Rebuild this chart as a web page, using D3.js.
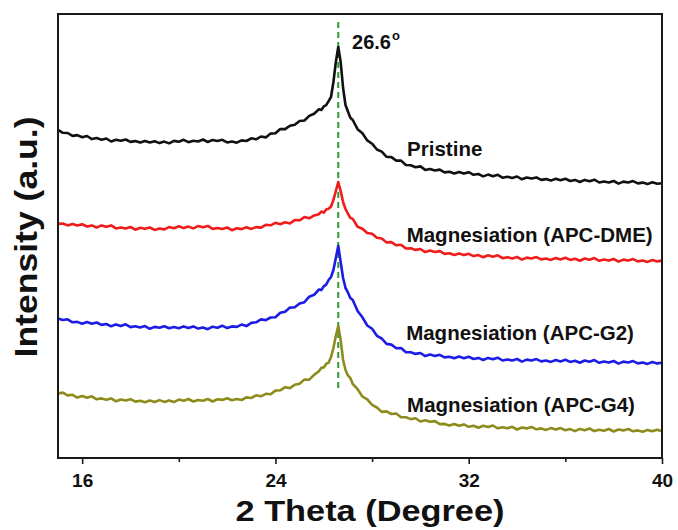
<!DOCTYPE html>
<html>
<head>
<meta charset="utf-8">
<script src="https://cdn.jsdelivr.net/npm/d3@7"></script>
<style>
  html, body { margin: 0; padding: 0; background: #fff; }
  svg { display: block; }
  text { font-family: "Liberation Sans", Arial, Helvetica, sans-serif; font-weight: bold; fill: #111; }
</style>
</head>
<body>
<svg id="chart" width="678" height="530"></svg>
<script>
// XRD patterns, intensity in arbitrary units (stacked traces)
const twoTheta = [15.0,15.2,15.4,15.6,15.8,16.0,16.2,16.4,16.6,16.8,
  17.0,17.2,17.4,17.6,17.8,18.0,18.2,18.4,18.6,18.8,
  19.0,19.2,19.4,19.6,19.8,20.0,20.2,20.4,20.6,20.8,
  21.0,21.2,21.4,21.6,21.8,22.0,22.2,22.4,22.6,22.8,
  23.0,23.2,23.4,23.6,23.8,24.0,24.2,24.4,24.6,24.8,
  25.0,25.2,25.4,25.6,25.8,
  25.9,26.0,26.1,26.2,26.3,26.4,26.5,26.6,26.7,26.8,26.9,27.0,27.1,27.2,
  27.4,27.6,27.8,28.0,28.2,28.4,28.6,28.8,29.0,29.2,
  29.4,29.6,29.8,30.0,30.2,30.4,30.6,30.8,31.0,31.2,
  31.4,31.6,31.8,32.0,32.2,32.4,32.6,32.8,33.0,33.2,
  33.4,33.6,33.8,34.0,34.2,34.4,34.6,34.8,35.0,35.2,
  35.4,35.6,35.8,36.0,36.2,36.4,36.6,36.8,37.0,37.2,
  37.4,37.6,37.8,38.0,38.2,38.4,38.6,38.8,39.0,39.2,
  39.4,39.6,39.8,40.0];

const pristine = [328.2,325.2,325,322.1,322.9,320.7,322,318.9,319.9,318.3,
  319.5,316.5,318.3,317.2,318.5,316.1,316.9,315.4,317.1,315.5,
  316.7,314.9,316.4,314.6,317.1,316.2,318.2,315.8,317.2,316.5,
  318.5,316,318.1,317.1,318.2,315.6,316.6,315.3,317.6,317,
  319.7,318.7,321.5,320.6,324.4,324.7,329,328.9,332.2,333.3,
  337,337.5,342.1,344.3,348.8,
  348.1,351.6,352.8,356.8,361,376,396,411,396,370,353,346.5,340.2,338,
  328.8,324.7,317.6,314.3,308.5,306.4,301.2,300.9,297.4,297.4,
  293,292.8,290.7,291.6,288.1,289.1,287.5,288.4,285.6,286.2,
  284.5,286.1,284.4,285.8,283.2,284,281.6,283.4,281.7,283.2,
  280.3,281.3,280.1,281.5,278.7,280.5,279.4,280.6,278.1,278.9,
  277.4,279.2,277.7,279.2,277,278.1,276,278.1,276.7,278.3,
  275.5,276.6,275.5,277,274.4,276.4,275.5,276.9,274.6,275.4,
  273.9,275.7,274.2,274.8];

const apcDME = [234.1,234.5,232.6,234.1,232.4,233.7,231.5,232.6,230.5,232.6,
  231.2,232.6,229.6,230.6,229.5,231,228.3,230.2,229.2,230.5,
  228.1,229.5,228.6,230.9,229.8,231.7,229.9,231.4,229.6,231.9,
  230.7,232.1,229.1,230.1,229,230.5,227.8,229.7,228.9,230.8,
  229.1,230.9,230.4,233.2,232.7,235.2,233.8,235.7,234.6,237.9,
  237.7,240.9,239.7,242.6,243.8,
  246.5,245.3,248.6,249.3,251.5,258,267,276,267,256,249,244.4,240.1,239.1,
  231.3,229.3,225,224.2,220.2,219.5,215.6,215.9,212.7,213.3,
  209.5,209.8,208.1,209,205.9,207.4,206,206.9,204.1,204.7,
  203,204.6,202.9,204.2,201.9,202.9,200.7,202.7,201.2,202.7,
  199.8,200.8,199.6,201,198.4,200.4,199.5,200.9,198.6,199.5,
  198.1,200,198.6,200.2,198.1,199.3,197.3,199.5,198.2,199.9,
  197.2,198.4,197.4,199,196.4,198.4,197.5,198.9,196.6,197.5,
  196.1,198,196.6,197.4];

const apcG2 = [139.6,138,138.7,135.7,136.1,134.3,135.9,134.2,135.5,133.1,
  134,131.7,133.6,132.1,133.7,130.9,131.8,130.5,131.9,129.2,
  131.1,130.3,131.8,129.8,130.9,129.8,131.6,130.1,131.6,129.4,
  130.5,128.8,131.3,130.3,132.3,129.9,131.6,131.1,133.4,131.9,
  135.1,135.7,138.6,137.9,140.5,140.8,145.2,146.3,150.4,150.8,
  154.5,155.8,161.3,163.2,168.5,
  167.9,171.7,173.3,178,181,188,200,212,196,180,170,165.6,160.1,158.1,
  147,140.7,132.5,129.2,122.2,119.5,114.1,113.4,109.7,109.9,
  105.7,105.8,104.1,105,101.9,103.4,102.1,103.2,100.6,101.3,
  99.7,101.4,99.8,101.2,99,100.1,98,100.1,98.7,100.3,
  97.5,98.6,97.5,99,96.4,98.4,97.5,98.9,96.6,97.5,
  96.1,98,96.6,98.2,96.1,97.3,95.3,97.5,96.2,97.9,
  95.2,96.4,95.4,97,94.4,96.4,95.5,96.9,94.6,95.5,
  94.1,96,94.6,95.3];

const apcG4 = [64.5,65.4,62.6,63.2,60.4,61.9,60.3,61.7,58.7,59.6,
  58.3,59.6,56.7,58.5,57.5,58.8,56.4,57.2,55.7,57.5,
  56,57.9,56.1,57.6,55.9,58.4,57.2,59,56.5,58,
  57.3,59,56.5,58.7,58.1,59.8,57.8,59,58,60.6,
  60,62.7,61.7,64.2,63.7,67.4,67.7,70.8,69.9,73.2,
  74.3,78.4,78.3,83.1,86.8,
  90.3,90.6,94.1,95.3,101,110,122,132,118,98,88,82.6,79.9,74,
  68.8,61.5,58.7,53.2,50.5,46.1,46.6,44,44.5,40.7,
  40.8,38.9,39.8,36.5,37.8,36.2,36.9,33.9,34.1,32.4,
  34,32.3,33.6,31.2,32.3,30.2,32.3,30.9,32.5,29.7,
  30.8,29.7,31.2,28.5,30.5,29.6,31,28.7,29.6,28.1,
  29.9,28.4,29.9,27.7,28.9,26.9,29.1,27.8,29.5,26.9,
  28.2,27.3,29,26.5,28.5,27.6,29,26.7,27.6,26.2,
  28.1,26.7,28.3,26.7];

const seriesNames = ["Pristine", "Magnesiation (APC-DME)", "Magnesiation (APC-G2)", "Magnesiation (APC-G4)"];
const seriesValues = [pristine, apcDME, apcG2, apcG4];
const seriesColors = ["#111111", "#f01c1c", "#1c1ce6", "#8c8c1c"];

const majorTicks = [16, 24, 32, 40];
const minorTicks = [20, 28, 36];
const peakPosition = 26.6;
const peakLabel = "26.6";
const xTitle = "2 Theta (Degree)";
const yTitle = "Intensity (a.u.)";

// label anchors in data units: [2θ, intensity at baseline]
const labelAnchors = [[29.45, 302], [29.43, 216], [29.41, 118], [29.45, 46]];
const peakLabelAnchor = [27.17, 409];
const peakLineExtent = [70, 436];

// layout
const frame = { left: 58, right: 662, top: 14, bottom: 458 };
const svg = d3.select("#chart");

const x = d3.scaleLinear().domain([15, 40]).range([frame.left, frame.right]);
const y = d3.scaleLinear().domain([0, 444]).range([frame.bottom, frame.top]);

// reference line at the graphite (002) position
svg.append("line")
  .attr("x1", x(peakPosition)).attr("x2", x(peakPosition))
  .attr("y1", y(peakLineExtent[1])).attr("y2", y(peakLineExtent[0]))
  .attr("stroke", "#2f9a3a").attr("stroke-width", 2)
  .attr("stroke-dasharray", "6,4");

// traces
const line = d3.line()
  .x(d => x(d[0]))
  .y(d => y(d[1]))
  .curve(d3.curveLinear);

svg.append("g").selectAll("path")
  .data(seriesValues.map((vals, i) => ({
    color: seriesColors[i],
    points: twoTheta.map((t, j) => [t, vals[j]]).filter(p => p[1] !== undefined)
  })))
  .join("path")
  .attr("d", d => line(d.points))
  .attr("fill", "none")
  .attr("stroke", d => d.color)
  .attr("stroke-width", 2.6)
  .attr("stroke-linejoin", "round");

// frame
svg.append("rect")
  .attr("x", frame.left).attr("y", frame.top)
  .attr("width", frame.right - frame.left).attr("height", frame.bottom - frame.top)
  .attr("fill", "none").attr("stroke", "#1a1a1a").attr("stroke-width", 2);

// x axis: major ticks with labels, minor ticks without
const axisMajor = svg.append("g")
  .attr("transform", `translate(0,${frame.bottom})`)
  .call(d3.axisBottom(x).tickValues(majorTicks).tickSize(6).tickPadding(10).tickFormat(d3.format("d")));
axisMajor.select(".domain").remove();
axisMajor.selectAll(".tick line").attr("stroke", "#1a1a1a").attr("stroke-width", 1.6);
axisMajor.selectAll(".tick text")
  .attr("fill", "#111")
  .style("font-size", "19px")
  .style("font-weight", "bold")
  .style("font-family", "'Liberation Sans', Arial, sans-serif");

const axisMinor = svg.append("g")
  .attr("transform", `translate(0,${frame.bottom})`)
  .call(d3.axisBottom(x).tickValues(minorTicks).tickSize(4).tickFormat(""));
axisMinor.select(".domain").remove();
axisMinor.selectAll(".tick line").attr("stroke", "#1a1a1a").attr("stroke-width", 1.6);

// axis titles
svg.append("text")
  .attr("x", 370).attr("y", 521)
  .attr("text-anchor", "middle")
  .attr("textLength", 269).attr("lengthAdjust", "spacingAndGlyphs")
  .style("font-size", "29px")
  .text(xTitle);

svg.append("text")
  .attr("transform", "translate(37,237) rotate(-90)")
  .attr("text-anchor", "middle")
  .attr("textLength", 241).attr("lengthAdjust", "spacingAndGlyphs")
  .style("font-size", "32px")
  .text(yTitle);

// series labels
svg.append("g").selectAll("text")
  .data(seriesNames)
  .join("text")
  .attr("x", (d, i) => x(labelAnchors[i][0]))
  .attr("y", (d, i) => y(labelAnchors[i][1]))
  .style("font-size", "20.5px")
  .text(d => d);

// peak position label with degree mark
const pk = svg.append("text")
  .attr("x", x(peakLabelAnchor[0]))
  .attr("y", y(peakLabelAnchor[1]))
  .style("font-size", "20px");
pk.append("tspan").text(peakLabel);
pk.append("tspan").attr("dy", -9).attr("dx", 1).style("font-size", "13px").text("o");
</script>
</body>
</html>
